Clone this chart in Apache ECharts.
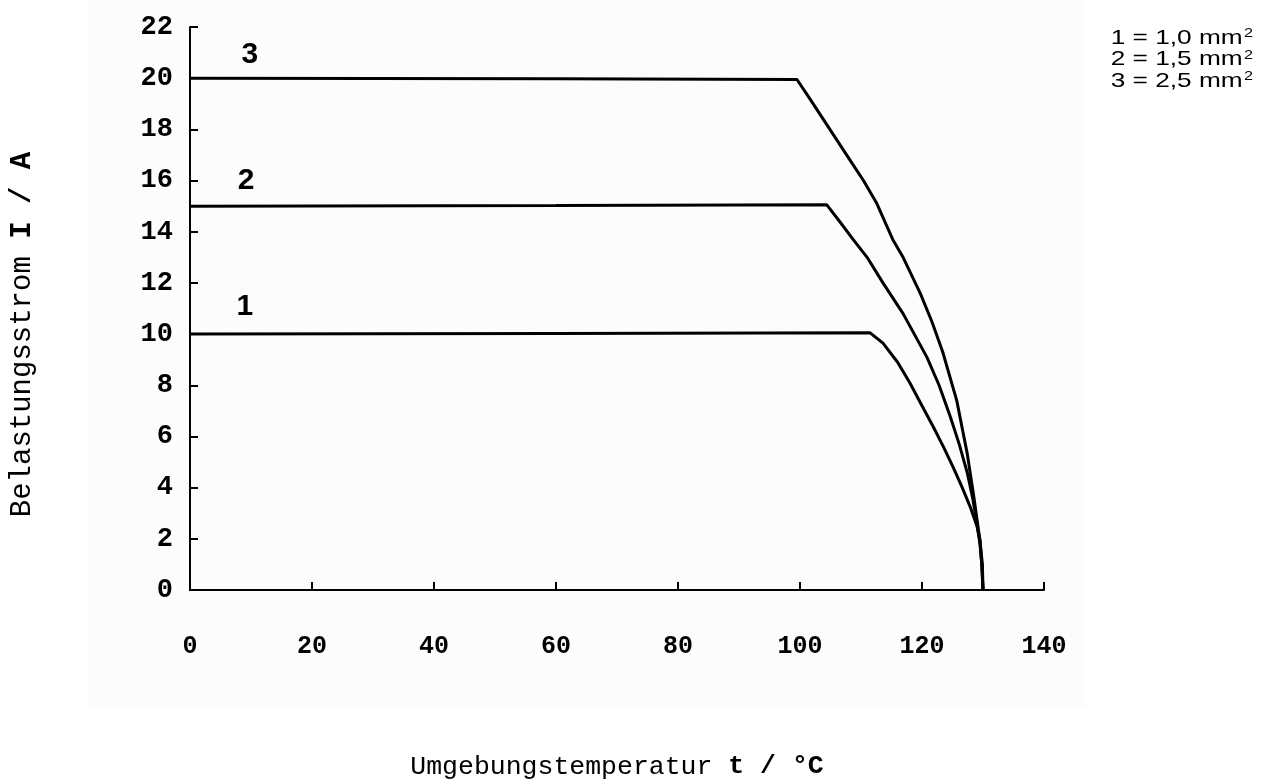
<!DOCTYPE html>
<html>
<head>
<meta charset="utf-8">
<script src="https://cdn.jsdelivr.net/npm/echarts@6/dist/echarts.min.js"></script>
<style>
  html, body { margin: 0; padding: 0; background: #fff; }
  #chart { width: 1266px; height: 783px; }
</style>
</head>
<body>
<div id="chart"></div>
<script>
// Werte (t in °C, I in A)
const curve1T = [0, 60, 111.5, 113.6, 116, 118, 120, 121.8, 123.5, 125.1, 126.6, 127.9, 129.0, 129.5, 129.9, 130];
const curve1I = [10, 10.02, 10.05, 9.65, 8.9, 8.1, 7.2, 6.4, 5.6, 4.8, 4.0, 3.25, 2.5, 1.95, 1.0, 0];

const curve2T = [0, 60, 104.4, 106.5, 108.7, 111, 113.6, 116.9, 120.8, 122.8, 124.6, 126.1, 127.4, 128.3, 129, 129.5, 129.8, 130];
const curve2I = [15, 15.02, 15.05, 14.4, 13.7, 13.0, 12.0, 10.8, 9.1, 8.0, 6.8, 5.7, 4.6, 3.6, 2.6, 1.8, 1.0, 0];

const curve3T = [0, 60, 99.5, 101.6, 103.8, 106, 108.2, 110.4, 112.6, 115.2, 116.9, 119.7, 121.6, 123.4, 125.7, 127.4, 128.4, 129.5, 129.8, 130];
const curve3I = [20, 19.98, 19.95, 19.2, 18.4, 17.6, 16.8, 16.0, 15.1, 13.7, 13.0, 11.6, 10.5, 9.3, 7.4, 5.35, 3.8, 1.95, 1.0, 0];

const curveNames = ['1', '2', '3'];
const labelT = [9.0, 9.2, 9.8];
const labelI = [11.05, 16.0, 20.9];

const legendLines = ['1 = 1,0 mm', '2 = 1,5 mm', '3 = 2,5 mm'];

const xTicks = { min: 0, max: 140, interval: 20 };
const yTicks = { min: 0, max: 22, interval: 2 };

function pairs(ts, is) {
  return ts.map((t, k) => [t, is[k]]);
}

const myChart = echarts.init(document.getElementById('chart'), null, { renderer: 'canvas' });

const monoFont = "'Courier New', 'Liberation Mono', monospace";
const sansFont = "'Liberation Sans', Arial, sans-serif";
const lineStyle = { color: '#000', width: 3 };

myChart.setOption({
  animation: false,
  backgroundColor: '#fff',
  graphic: [
    {
      type: 'rect',
      z: -10,
      shape: { x: 89, y: 0, width: 996, height: 707 },
      style: { fill: '#fcfcfc' },
    },
    {
      // Legende rechts oben (im Original breit gezogen)
      type: 'text',
      x: 1253,
      y: 27,
      scaleX: 1.25,
      style: {
        text: legendLines.map((s) => '{n|' + s + '}{s|2}').join('\n'),
        align: 'right',
        verticalAlign: 'top',
        fill: '#000',
        rich: {
          n: { fontFamily: sansFont, fontSize: 21, lineHeight: 21.5, fill: '#000', verticalAlign: 'bottom' },
          s: { fontFamily: sansFont, fontSize: 13, lineHeight: 21.5, fill: '#000', verticalAlign: 'top', padding: [0, 0, 0, 1] },
        },
      },
    },
  ],
  grid: {
    left: 190,
    right: 222,
    top: 27,
    bottom: 193,
    outerBoundsMode: 'none',
  },
  xAxis: {
    type: 'value',
    min: xTicks.min,
    max: xTicks.max,
    interval: xTicks.interval,
    name: 'Umgebungstemperatur {b|t / °C}',
    nameLocation: 'middle',
    nameGap: 163,
    nameTextStyle: {
      fontFamily: monoFont,
      fontSize: 26.5,
      color: '#000',
      rich: {
        b: { fontFamily: monoFont, fontSize: 26.5, fontWeight: 'bold', color: '#000' },
      },
    },
    axisLine: { onZero: false, lineStyle: { color: '#000', width: 2 } },
    axisTick: { inside: true, length: 8, lineStyle: { color: '#000', width: 2 } },
    axisLabel: {
      margin: 44,
      color: '#000',
      fontFamily: monoFont,
      fontWeight: 'bold',
      fontSize: 25,
    },
    splitLine: { show: false },
  },
  yAxis: {
    type: 'value',
    min: yTicks.min,
    max: yTicks.max,
    interval: yTicks.interval,
    name: 'Belastungsstrom {b|I / A}',
    nameLocation: 'middle',
    nameGap: 153,
    nameRotate: 90,
    nameTextStyle: {
      fontFamily: monoFont,
      fontSize: 29,
      color: '#000',
      padding: [0, 52, 0, 0],
      rich: {
        b: { fontFamily: monoFont, fontSize: 29, fontWeight: 'bold', color: '#000' },
      },
    },
    axisLine: { onZero: false, lineStyle: { color: '#000', width: 2 } },
    axisTick: { inside: true, length: 8, lineStyle: { color: '#000', width: 2 } },
    axisLabel: {
      margin: 17,
      color: '#000',
      fontFamily: monoFont,
      fontWeight: 'bold',
      fontSize: 27,
    },
    splitLine: { show: false },
  },
  series: [
    {
      name: curveNames[0],
      type: 'line',
      data: pairs(curve1T, curve1I),
      showSymbol: false,
      lineStyle,
    },
    {
      name: curveNames[1],
      type: 'line',
      data: pairs(curve2T, curve2I),
      showSymbol: false,
      lineStyle,
    },
    {
      name: curveNames[2],
      type: 'line',
      data: pairs(curve3T, curve3I),
      showSymbol: false,
      lineStyle,
    },
    {
      // Kurvennummern
      type: 'scatter',
      symbolSize: 0,
      silent: true,
      itemStyle: { opacity: 1 },
      data: curveNames.map((n, k) => ({ name: n, value: [labelT[k], labelI[k]] })),
      label: {
        show: true,
        position: 'inside',
        formatter: '{b}',
        color: '#000',
        opacity: 1,
        fontFamily: sansFont,
        fontWeight: 'bold',
        fontSize: 30,
      },
    },
  ],
});
</script>
</body>
</html>
